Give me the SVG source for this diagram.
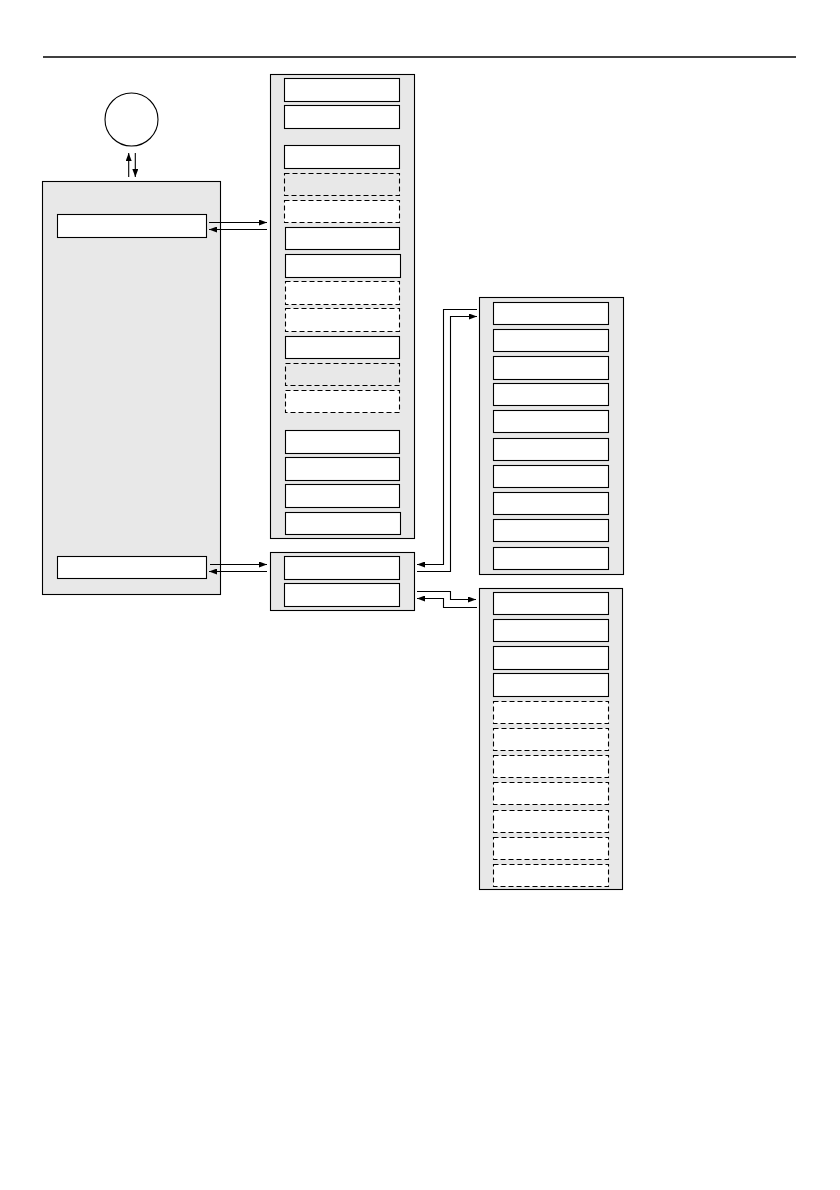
<svg xmlns="http://www.w3.org/2000/svg" width="840" height="1190" viewBox="0 0 840 1190">
<defs>
<style>
.panel{fill:#e8e8e8;stroke:#000;stroke-width:1.1}
.box{fill:#fff;stroke:#000;stroke-width:1.1}
.dash{fill:#fff;stroke:#000;stroke-width:1.1;stroke-dasharray:5,3}
.dashg{fill:#e8e8e8;stroke:#000;stroke-width:1.1;stroke-dasharray:5,3}
.ln{fill:none;stroke:#000;stroke-width:1.1}
</style>
<marker id="ah" viewBox="0 0 8 6" refX="8" refY="3" markerWidth="8" markerHeight="6" markerUnits="userSpaceOnUse" orient="auto">
<path d="M0,0 L8,3 L0,6 Z" fill="#000"/>
</marker>
</defs>
<rect width="840" height="1190" fill="#fff"/>
<line x1="43" y1="57" x2="796" y2="57" stroke="#000" stroke-width="1.3"/>

<g id="circle"><circle cx="131.5" cy="119.5" r="26.5" fill="#fff" stroke="#000" stroke-width="1.1"/></g>

<g id="left-panel">
<rect class="panel" x="42.5" y="181.5" width="178" height="413"/>
<rect class="box" x="57.5" y="214.5" width="149" height="23"/>
<rect class="box" x="57.5" y="556.5" width="149" height="22"/>
</g>

<g id="middle-panel">
<rect class="panel" x="270.5" y="74.5" width="144" height="464"/>
<rect class="box" x="284.5" y="78.5" width="115" height="23"/>
<rect class="box" x="284.5" y="105.5" width="115" height="23"/>
<rect class="box" x="284.5" y="145.5" width="115" height="23"/>
<rect class="dashg" x="284.5" y="173.5" width="115" height="22"/>
<rect class="dash" x="284.5" y="200.5" width="115" height="22"/>
<rect class="box" x="285.5" y="227.5" width="114" height="22"/>
<rect class="box" x="285.5" y="254.5" width="115" height="23"/>
<rect class="dash" x="285.5" y="281.5" width="114" height="23"/>
<rect class="dash" x="285.5" y="308.5" width="114" height="23"/>
<rect class="box" x="285.5" y="336.5" width="114" height="22"/>
<rect class="dashg" x="285.5" y="363.5" width="114" height="22"/>
<rect class="dash" x="285.5" y="390.5" width="114" height="22"/>
<rect class="box" x="285.5" y="430.5" width="114" height="23"/>
<rect class="box" x="285.5" y="457.5" width="114" height="23"/>
<rect class="box" x="285.5" y="484.5" width="114" height="23"/>
<rect class="box" x="285.5" y="512.5" width="115" height="22"/>
</g>

<g id="small-panel">
<rect class="panel" x="270.5" y="552.5" width="144" height="58"/>
<rect class="box" x="284.5" y="556.5" width="115" height="23"/>
<rect class="box" x="284.5" y="583.5" width="115" height="23"/>
</g>

<g id="right-top-panel">
<rect class="panel" x="479.5" y="297.5" width="144" height="277"/>
<rect class="box" x="493.5" y="302.5" width="115" height="22"/>
<rect class="box" x="493.5" y="329.5" width="115" height="22"/>
<rect class="box" x="493.5" y="356.5" width="115" height="23"/>
<rect class="box" x="493.5" y="383.5" width="115" height="22"/>
<rect class="box" x="493.5" y="410.5" width="115" height="22"/>
<rect class="box" x="493.5" y="438.5" width="115" height="22"/>
<rect class="box" x="493.5" y="465.5" width="115" height="22"/>
<rect class="box" x="493.5" y="492.5" width="115" height="22"/>
<rect class="box" x="493.5" y="519.5" width="115" height="22"/>
<rect class="box" x="493.5" y="547.5" width="115" height="22"/>
</g>

<g id="right-bottom-panel">
<rect class="panel" x="479.5" y="588.5" width="143" height="301"/>
<rect class="box" x="493.5" y="592.5" width="115" height="22"/>
<rect class="box" x="493.5" y="619.5" width="115" height="22"/>
<rect class="box" x="493.5" y="646.5" width="115" height="23"/>
<rect class="box" x="493.5" y="673.5" width="115" height="23"/>
<rect class="dash" x="493.5" y="701.5" width="115" height="22"/>
<rect class="dash" x="493.5" y="728.5" width="115" height="22"/>
<rect class="dash" x="493.5" y="755.5" width="115" height="22"/>
<rect class="dash" x="493.5" y="782.5" width="115" height="22"/>
<rect class="dash" x="493.5" y="810.5" width="115" height="22"/>
<rect class="dash" x="493.5" y="837.5" width="115" height="22"/>
<rect class="dash" x="493.5" y="864.5" width="115" height="22"/>
</g>

<g id="connectors">
<line class="ln" x1="128.7" y1="177" x2="128.7" y2="153" marker-end="url(#ah)"/>
<line class="ln" x1="135.3" y1="153" x2="135.3" y2="177" marker-end="url(#ah)"/>
<line class="ln" x1="209" y1="222.5" x2="267" y2="222.5" marker-end="url(#ah)"/>
<line class="ln" x1="267" y1="229.5" x2="209" y2="229.5" marker-end="url(#ah)"/>
<line class="ln" x1="210" y1="564.5" x2="267" y2="564.5" marker-end="url(#ah)"/>
<line class="ln" x1="267" y1="571.5" x2="209" y2="571.5" marker-end="url(#ah)"/>
<polyline class="ln" points="477,309.5 443.5,309.5 443.5,564.5 417,564.5" marker-end="url(#ah)"/>
<polyline class="ln" points="417,571.5 450.5,571.5 450.5,316.5 477,316.5" marker-end="url(#ah)"/>
<polyline class="ln" points="417,591.5 450.5,591.5 450.5,599.5 476,599.5" marker-end="url(#ah)"/>
<polyline class="ln" points="477,607.5 443.5,607.5 443.5,598.5 417,598.5" marker-end="url(#ah)"/>
</g>
</svg>
